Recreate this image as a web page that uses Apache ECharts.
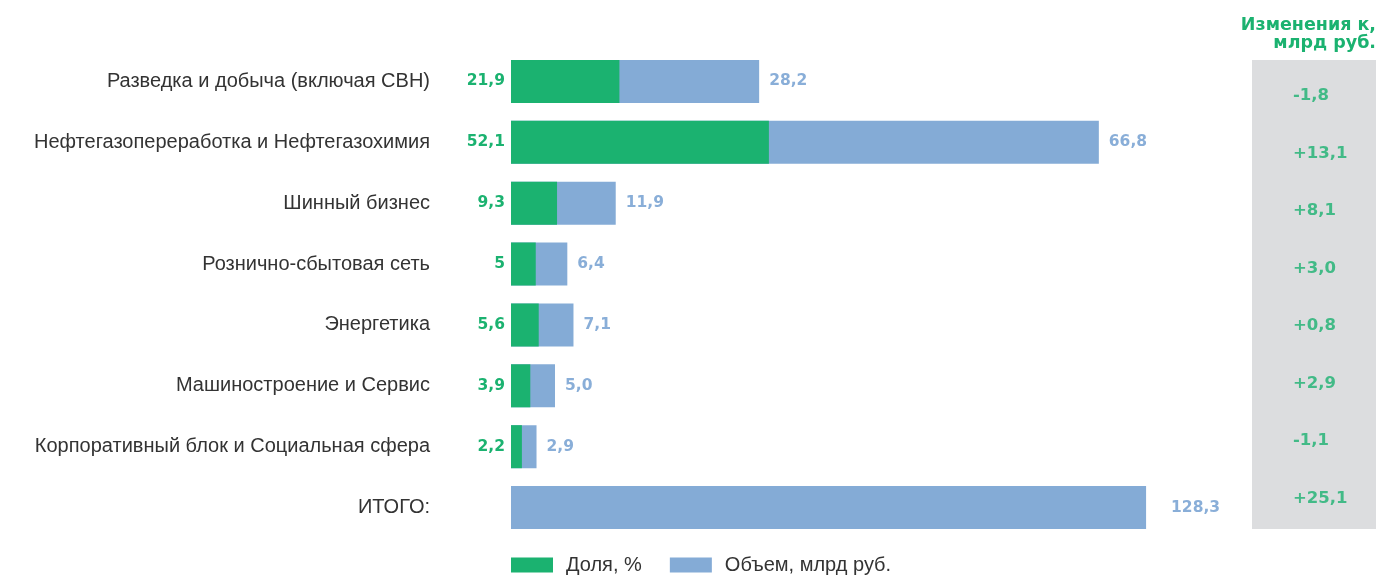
<!DOCTYPE html>
<html>
<head>
<meta charset="utf-8">
<script src="https://cdn.jsdelivr.net/npm/echarts@6/dist/echarts.min.js"></script>
<style>
  html, body { margin: 0; padding: 0; background: #fff; }
  #main { width: 1379px; height: 575px; }
</style>
</head>
<body>
<div id="main"></div>
<script>
// данные
var categories = [
    'Разведка и добыча (включая СВН)',
    'Нефтегазопереработка и Нефтегазохимия',
    'Шинный бизнес',
    'Рознично-сбытовая сеть',
    'Энергетика',
    'Машиностроение и Сервис',
    'Корпоративный блок и Социальная сфера',
    'ИТОГО:'
];
var shares  = [21.9, 52.1, 9.3, 5, 5.6, 3.9, 2.2];        // Доля, %
var volumes = [28.2, 66.8, 11.9, 6.4, 7.1, 5.0, 2.9];     // Объем, млрд руб.
var total   = 128.3;
var changes = [-1.8, 13.1, 8.1, 3.0, 0.8, 2.9, -1.1, 25.1];

var GREEN = '#1bb270';
var BLUE = '#84abd6';
var FONT = '"Liberation Sans", Arial, sans-serif';
var BOLD = '"DejaVu Sans", sans-serif';  // широкий жирный для цифр

function comma(v) { return String(v).replace('.', ','); }
function fixed1(v) { return v.toFixed(1).replace('.', ','); }
function signed(v) { return (v > 0 ? '+' : '') + v.toFixed(1).replace('.', ','); }

var chart = echarts.init(document.getElementById('main'));

var option = {
    animation: false,
    textStyle: { fontFamily: FONT },
    graphic: [
        {
            type: 'rect', z: -10,
            shape: { x: 1252, y: 60, width: 124, height: 469 },
            style: { fill: '#dcdddf' }
        },
        {
            type: 'text', x: 1376, y: 16,
            style: {
                text: 'Изменения к,\nмлрд руб.',
                align: 'right',
                fill: GREEN,
                font: 'bold 17.5px ' + BOLD,
                lineHeight: 18
            }
        }
    ],
    legend: {
        data: ['Доля, %', 'Объем, млрд руб.'],
        left: 506,
        top: 550,
        itemWidth: 42,
        itemHeight: 15,
        itemGap: 28,
        icon: 'rect',
        textStyle: { fontSize: 20, color: '#333', padding: [0, 0, 0, 8] }
    },
    grid: [
        { left: 511, width: 792, top: 51, height: 487 },
        { left: 1293, width: 83, top: 67, height: 460 }
    ],
    xAxis: [
        { gridIndex: 0, type: 'value', min: 0, max: 160, show: false },
        { gridIndex: 0, type: 'value', min: 0, max: 90, show: false },
        { gridIndex: 1, type: 'value', min: 0, max: 1, show: false }
    ],
    yAxis: [
        {
            gridIndex: 0, type: 'category', inverse: true, data: categories,
            axisLine: { show: false }, axisTick: { show: false },
            axisLabel: { fontSize: 20, color: '#333', margin: 81 }
        },
        {
            gridIndex: 1, type: 'category', inverse: true, data: categories,
            show: false
        }
    ],
    series: [
        {
            name: 'Объем, млрд руб.',
            type: 'bar',
            xAxisIndex: 1, yAxisIndex: 0,
            barWidth: 43, barGap: '-100%',
            itemStyle: { color: BLUE },
            data: volumes.concat(['-']),
            label: {
                show: true, position: 'right', distance: 10,
                color: '#89aed8', fontWeight: 'bold', fontSize: 15.5, fontFamily: BOLD,
                formatter: function (p) { return fixed1(p.value); }
            }
        },
        {
            name: 'Доля, %',
            type: 'bar',
            xAxisIndex: 0, yAxisIndex: 0,
            barWidth: 43, barGap: '-100%',
            itemStyle: { color: GREEN },
            data: shares.concat(['-']),
            label: {
                show: true, position: 'left', distance: 6,
                color: GREEN, fontWeight: 'bold', fontSize: 15.5, fontFamily: BOLD,
                formatter: function (p) { return comma(p.value); }
            }
        },
        {
            name: 'ИТОГО',
            type: 'bar',
            xAxisIndex: 0, yAxisIndex: 0,
            barWidth: 43, barGap: '-100%',
            itemStyle: { color: BLUE },
            data: shares.map(function () { return '-'; }).concat([total]),
            label: {
                show: true, position: 'right', distance: 25,
                color: '#89aed8', fontWeight: 'bold', fontSize: 15.5, fontFamily: BOLD,
                formatter: function (p) { return comma(p.value); }
            }
        },
        {
            name: 'Изменения',
            type: 'scatter',
            xAxisIndex: 2, yAxisIndex: 1,
            symbolSize: 0,
            data: changes.map(function (v, i) { return [0, i, v]; }),
            label: {
                show: true, position: 'right', distance: 0,
                color: GREEN, fontWeight: 'bold', fontSize: 16.5, fontFamily: BOLD,
                formatter: function (p) { return signed(p.value[2]); }
            }
        }
    ]
};

chart.setOption(option);
</script>
</body>
</html>
